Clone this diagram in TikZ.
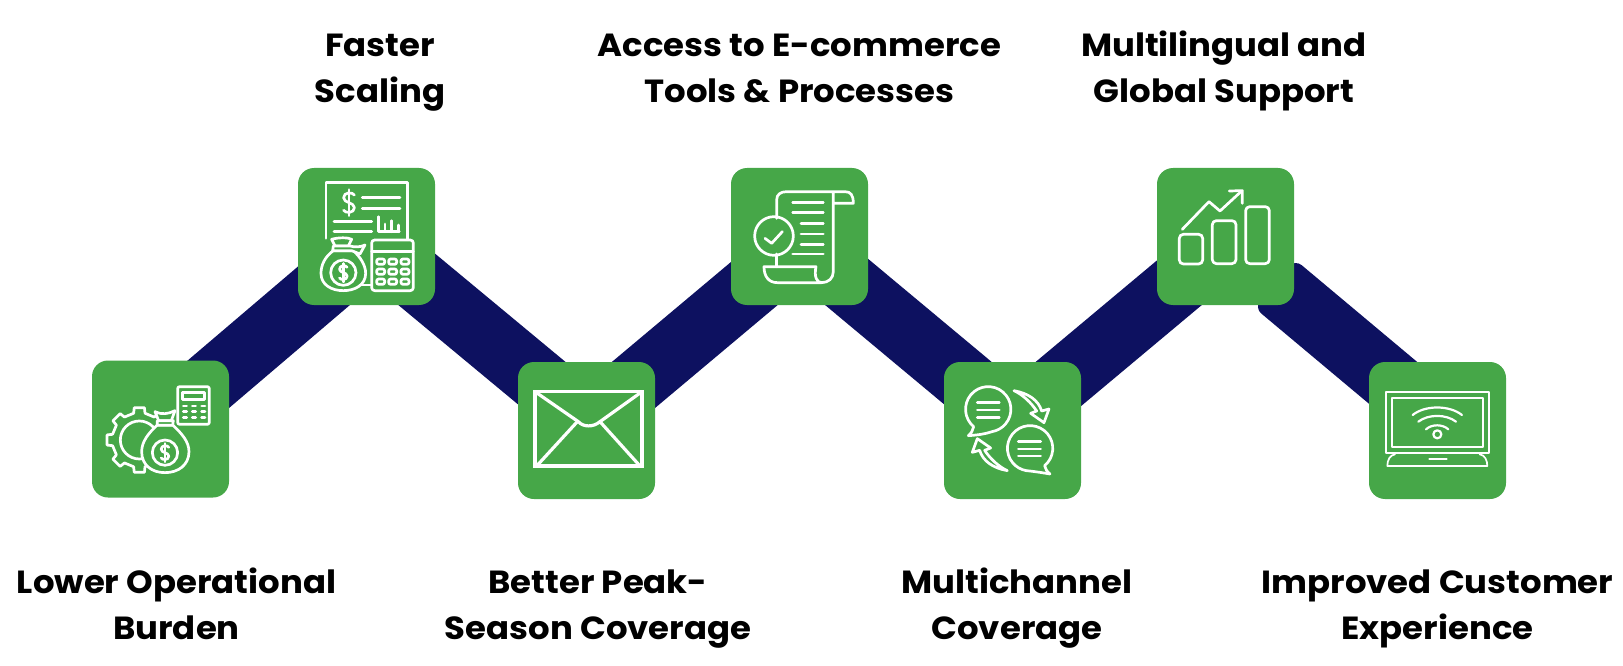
\documentclass[tikz,border=0pt]{standalone}
\usepackage{fontspec}
\setmainfont[FakeStretch=1.06]{Poppins}
\usetikzlibrary{backgrounds,calc}
\definecolor{navyband}{HTML}{0D1160}
\definecolor{boxgreen}{HTML}{46A748}
\tikzset{
  x=1pt,y=-1pt,
  tile/.style={fill=boxgreen,draw=none,rounded corners=16pt,minimum width=137pt,minimum height=137pt,inner sep=0pt},
  band/.style={navyband,line width=63pt},
  lbl/.style={align=center,font=\fontsize{32}{46}\selectfont\bfseries,inner sep=0pt,text=black},
  icon/.style={draw=white,line width=2.7pt,line join=round,line cap=round},
  zoomed/.style={shift={#1},x=0.3333pt,y=-0.3333pt},
  dollarsign/.pic={
    \draw[icon] (12,-17) .. controls (8,-24) and (-12,-24) .. (-12,-11) .. controls (-12,1) and (12,-1) .. (12,11) .. controls (12,24) and (-8,24) .. (-12,17);
    \draw[icon] (0,-29) -- (0,29);
  }
}
\begin{document}
\begin{tikzpicture}
\useasboundingbox (0,0) rectangle (1623,666);
% tiles
\node[tile] (t1) at (160.5,429) {};
\node[tile] (t2) at (366.5,236.5) {};
\node[tile] (t3) at (586.5,430.5) {};
\node[tile] (t4) at (799.5,236.5) {};
\node[tile] (t5) at (1012.5,430.5) {};
\node[tile] (t6) at (1225.5,236.5) {};
\node[tile] (t7) at (1437.5,430.5) {};
% band anchors
\coordinate (b1a) at ($(t1)+(10,-12.5)$);
\coordinate (b1b) at ($(t2)+(10,4.5)$);
\coordinate (b2a) at ($(t2)+(4,4.5)$);
\coordinate (b2b) at ($(t3)+(-10,-18.5)$);
\coordinate (b3a) at ($(t3)+(10,-14.5)$);
\coordinate (b3b) at ($(t4)+(-10,17.5)$);
\coordinate (b4a) at ($(t4)+(4,9.5)$);
\coordinate (b4b) at ($(t5)+(-10,-18.5)$);
\coordinate (b5a) at ($(t5)+(10,-16.5)$);
\coordinate (b5b) at ($(t6)+(-10,16)$);
\coordinate (b6a) at ($(t6)+(49,47)$);
\coordinate (b6b) at ($(t7)+(-12,-20.5)$);
\begin{scope}[on background layer]
\draw[band] (b1a) -- (b1b);
\draw[band] (b2a) -- (b2b);
\draw[band] (b3a) -- (b3b);
\draw[band] (b4a) -- (b4b);
\draw[band] (b5a) -- (b5b);
\fill[navyband,rounded corners=9pt] ($(b6a)!31.5pt!90:(b6b)$) -- ($(b6b)!31.5pt!-90:(b6a)$) -- ($(b6b)!31.5pt!90:(b6a)$) -- ($(b6a)!31.5pt!-90:(b6b)$) -- cycle;
\end{scope}
% icon 1
\begin{scope}[zoomed={(70,340)}]
\draw[icon] \foreach \a in {0,45,...,315} {
  ($(208,300)+(\a-12:82 and -82)$) -- ($(208,300)+(\a-9:98 and -98)$) -- ($(208,300)+(\a+9:98 and -98)$) -- ($(208,300)+(\a+12:82 and -82)$) -- ($(208,300)+(\a+33:82 and -82)$)
};
\draw[icon] (208,300) circle (57);
\draw[icon,fill=boxgreen] (262,255) .. controls (235,280) and (215,305) .. (215,335) .. controls (215,375) and (245,398) .. (285,398) .. controls (325,398) and (357,375) .. (357,335) .. controls (357,305) and (335,280) .. (308,255) -- cycle;
\draw[icon,fill=boxgreen] (255,215) .. controls (275,225) and (295,222) .. (315,212) -- (304,242) -- (266,242) -- cycle;
\draw[icon,fill=boxgreen] (262,242) -- (310,242) -- (308,256) -- (262,256) -- cycle;
\draw[icon] (285,338) circle (38);
\pic[scale=0.95] at (285,338) {dollarsign};
\draw[icon,rounded corners=2pt] (323,140) rectangle (418,253);
\draw[icon] (337,157) rectangle (403,178);
\foreach \y in {198,215,233} \foreach \x in {345,372,400} \draw[icon,line width=2.8pt] (\x-5,\y) -- (\x+5,\y);
\end{scope}
% icon 2
\begin{scope}[zoomed={(270,150)}]
\draw[icon] (168,265) -- (168,97) -- (413,97) -- (413,268);
\pic[scale=1.35] at (237,158) {dollarsign};
\draw[icon] (277,143) -- (390,143) (277,175) -- (390,175) (192,215) -- (305,215) (192,245) -- (305,245);
\draw[icon] (325,200) -- (325,245) -- (388,245) (345,222) -- (345,245) (365,212) -- (365,245) (385,225) -- (385,245);
\draw[icon,fill=boxgreen,rounded corners=3pt] (305,270) rectangle (430,422);
\draw[icon] (305,305) -- (430,305);
\foreach \y in {335,365,395} \foreach \x in {332,368,405} \draw[icon,rounded corners=2pt] (\x-12,\y-8) rectangle (\x+12,\y+8);
\draw[icon] (275,405) -- (305,405);
\draw[icon,fill=boxgreen] (190,302) .. controls (165,320) and (153,345) .. (153,370) .. controls (153,405) and (185,422) .. (220,422) .. controls (255,422) and (287,405) .. (287,370) .. controls (287,345) and (270,320) .. (250,302) -- cycle;
\draw[icon,fill=boxgreen] (185,268) .. controls (205,262) and (235,262) .. (245,268) -- (235,288) -- (195,288) -- cycle;
\draw[icon,fill=boxgreen] (190,288) -- (240,288) .. controls (255,292) and (270,292) .. (285,285) -- (270,312) -- (245,302) -- (188,302) -- cycle;
\draw[icon] (220,368) circle (38);
\pic[scale=0.95] at (220,368) {dollarsign};
\end{scope}
% icon 3
\begin{scope}[zoomed={(690,150)}]
\draw[icon] (260,205) -- (260,150) .. controls (260,133) and (272,125) .. (290,125) -- (465,125) .. controls (482,125) and (490,135) .. (490,160) -- (430,160) -- (430,125);
\draw[icon] (430,160) -- (430,365) .. controls (430,385) and (415,398) .. (395,398) .. controls (380,398) and (372,380) .. (378,350) -- (222,350) .. controls (222,378) and (235,398) .. (262,398) -- (395,398);
\draw[icon] (260,312) -- (260,350);
\draw[icon] (252,258) circle (58);
\draw[icon] (225,265) -- (245,280) -- (277,245);
\draw[icon] (308,158) -- (400,158) (308,188) -- (400,188) (333,220) -- (400,220) (333,252) -- (400,252) (333,283) -- (400,283) (308,312) -- (400,312);
\end{scope}
% icon 4
\begin{scope}[zoomed={(900,340)}]
\draw[icon] (221,260) arc[start angle=130,end angle=440,radius=68] .. controls (255,282) and (235,285) .. (205,287) .. controls (214,280) and (219,270) .. (221,260);
\draw[icon] (232,188) -- (298,188) (232,210) -- (298,210) (232,232) -- (298,232);
\draw[icon] (434,377) arc[start angle=50,end angle=-260,radius=68] .. controls (400,394) and (420,397) .. (450,402) .. controls (441,395) and (436,387) .. (434,377);
\draw[icon] (355,305) -- (422,305) (355,327) -- (422,327) (355,348) -- (422,348);
\draw[icon] (342,152) .. controls (385,160) and (415,180) .. (425,213) -- (447,207) -- (432,248) -- (392,220) -- (410,213) .. controls (395,190) and (370,165) .. (342,152) -- cycle;
\draw[icon] (322,392) .. controls (279,384) and (249,364) .. (239,331) -- (217,337) -- (232,296) -- (272,324) -- (254,331) .. controls (269,354) and (294,379) .. (322,392) -- cycle;
\end{scope}
% icon 5
\begin{scope}[zoomed={(1100,150)}]
\draw[icon] (247,238) -- (327,155) -- (360,183) -- (425,123);
\draw[icon] (388,123) -- (427,122) -- (427,160);
\draw[icon,rounded corners=4pt] (238,253) rectangle (308,342);
\draw[icon,rounded corners=4pt] (337,212) rectangle (408,341);
\draw[icon,rounded corners=4pt] (437,170) rectangle (508,341);
\end{scope}
% icon 6
\begin{scope}[zoomed={(1300,340)}]
\draw[icon,line width=1.7pt] (257,157) rectangle (567,340);
\draw[icon,line width=1.7pt] (275,175) rectangle (549,322);
\draw[icon,line width=2.2pt] (412,283) circle (12);
\draw[icon,line width=2.2pt] (378,268) .. controls (395,252) and (428,252) .. (445,268);
\draw[icon,line width=2.2pt] (355,245) .. controls (385,222) and (438,222) .. (468,245);
\draw[icon,line width=2.2pt] (338,225) .. controls (375,195) and (448,195) .. (486,225);
\draw[icon,line width=1.7pt] (285,343) .. controls (270,345) and (262,360) .. (262,378) -- (562,378) .. controls (562,360) and (554,345) .. (539,343);
\draw[icon,line width=2.2pt] (388,358) -- (440,358);
\end{scope}
% icon 7
\begin{scope}[zoomed={(490,340)}]
\draw[icon,line width=3.2pt,line cap=butt,line join=miter] (135,155) rectangle (456,378);
\draw[icon,line width=3.2pt] (135,155) -- (265,245) .. controls (280,262) and (310,262) .. (330,245) -- (456,155);
\draw[icon,line width=3.2pt] (140,378) -- (262,245) (450,378) -- (330,245);
\end{scope}
% labels
\node[lbl] (l1) at (176.5,607) {\strut Lower Operational\\\strut Burden};
\node[lbl] (l2) at (380,70.7) {\strut Faster\\\strut Scaling};
\node[lbl] (l3) at (598,607) {\strut Better Peak-\\\strut Season Coverage};
\node[lbl] (l4) at (799.5,70.7) {\strut Access to E-commerce\\\strut Tools \& Processes};
\node[lbl] (l5) at (1017,607) {\strut Multichannel\\\strut Coverage};
\node[lbl] (l6) at (1224,70.7) {\strut Multilingual and\\\strut Global Support};
\node[lbl] (l7) at (1437.5,607) {\strut Improved Customer\\\strut Experience};
\end{tikzpicture}
\end{document}
